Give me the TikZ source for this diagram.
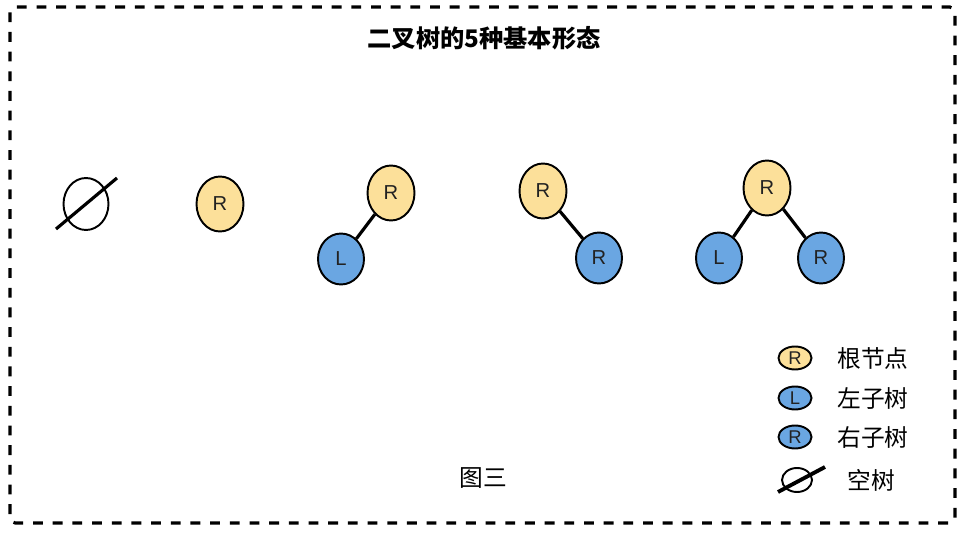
\documentclass[tikz,border=0pt]{standalone}
\usepackage{fontspec}
\setmainfont{Liberation Sans}
\newfontfamily\cjk{Noto Sans CJK SC}
\usepackage{xcolor}
\usetikzlibrary{calc,positioning,shapes.geometric}
\definecolor{rootyellow}{HTML}{FCE09A}
\definecolor{childblue}{HTML}{6AA6E2}
\definecolor{letter}{HTML}{222222}

\begin{document}
\begin{tikzpicture}[
      x=0.02cm, y=-0.02cm,
      rootnode/.style={draw, ellipse, line width=1.1pt, fill=rootyellow, minimum width=0.94cm, minimum height=1.1cm, inner sep=0pt, text=letter, font=\fontsize{11.5}{13}\selectfont},
      subnode/.style={draw, ellipse, line width=1.1pt, fill=childblue, minimum width=0.92cm, minimum height=1.02cm, inner sep=0pt, text=letter, font=\fontsize{11.5}{13}\selectfont},
      emptynode/.style={draw, ellipse, line width=1.1pt, minimum width=0.9cm, minimum height=1.04cm, inner sep=0pt},
      keyroot/.style={rootnode, minimum width=0.66cm, minimum height=0.46cm, font=\fontsize{10.5}{11}\selectfont},
      keysub/.style={subnode, minimum width=0.66cm, minimum height=0.46cm, font=\fontsize{10.5}{11}\selectfont},
      keyempty/.style={emptynode, minimum width=0.6cm, minimum height=0.48cm},
      keytext/.style={anchor=west, inner sep=0pt, font=\cjk\fontsize{13.5}{15}\selectfont},
      link/.style={line width=1.8pt},
      slash/.style={line width=1.8pt},
      frame/.style={line width=1.8pt, dash pattern=on 5.6pt off 5.6pt, rounded corners=3pt}
  ]
    \useasboundingbox (0,0) rectangle (967,540);
    \draw[frame] (10,7) rectangle (955,523);

    % title
    \node[font=\cjk\bfseries\fontsize{13.8}{15}\selectfont] (title) at (484,38) {二叉树的5种基本形态};

    % empty tree
    \node[emptynode] (e0) at (86,204) {};
    \draw[slash] ($(e0.center)+(-30,25)$) -- ($(e0.center)+(31,-26)$);

    % root only
    \node[rootnode] (r1) at (220,204) {R};

    % root with left child
    \node[rootnode] (r2) at (391,193) {R};
    \node[subnode] (l2) at (341,259) {L};
    \draw[link] (r2) -- (l2);

    % root with right child
    \node[rootnode] (r3) at (543,191) {R};
    \node[subnode] (s3) at (599,258) {R};
    \draw[link] (r3) -- (s3);

    % root with both children
    \node[rootnode] (r4) at (767,188) {R};
    \node[subnode] (l4) at (719,258) {L};
    \node[subnode] (s4) at (821,258) {R};
    \draw[link] (r4) -- (l4);
    \draw[link] (r4) -- (s4);

    % legend
    \node[keyroot] (kRoot) at (795,358) {R};
    \node[keytext] (tRoot) at (837,358) {根节点};
    \node[keysub] (kLeft) at (795,398) {L};
    \node[keytext] (tLeft) at (837,398) {左子树};
    \node[keysub] (kRight) at (795,437) {R};
    \node[keytext] (tRight) at (837,437) {右子树};
    \node[keyempty] (kEmpty) at (797,480) {};
    \draw[slash, line width=2.2pt] ($(kEmpty.center)+(-19,12)$) -- ($(kEmpty.center)+(28,-13)$);
    \node[keytext] (tEmpty) at (847,480) {空树};

    % caption
    \node[font=\cjk\fontsize{13.5}{15}\selectfont] (caption) at (483,478) {图三};
\end{tikzpicture}
\end{document}
